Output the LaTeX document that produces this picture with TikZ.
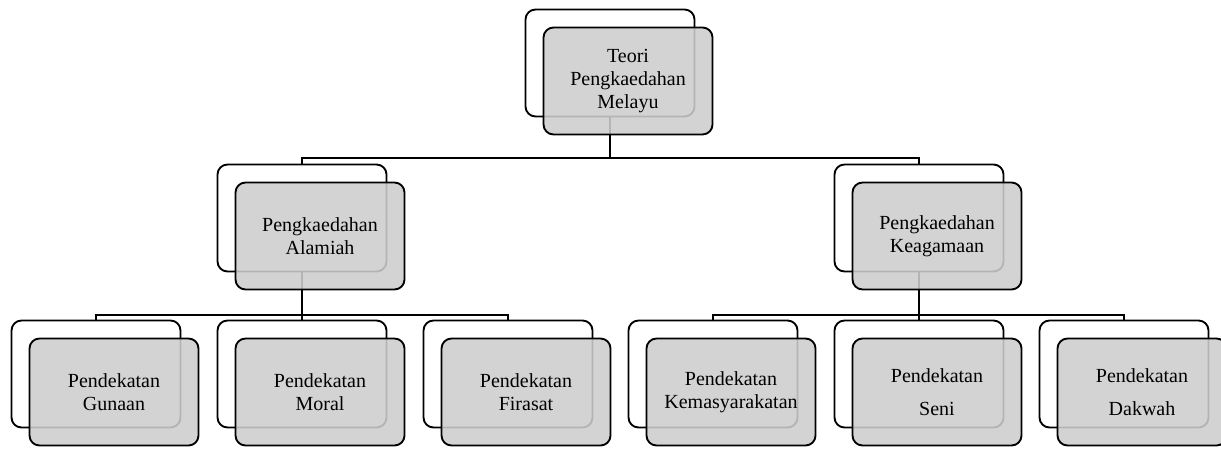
\documentclass[tikz,border=0pt]{standalone}
\usepackage{fontspec}
\setmainfont{Liberation Serif}
\definecolor{boxgray}{RGB}{205,205,205}
\begin{document}
\begin{tikzpicture}[x=0.75pt, y=-0.75pt,
  back/.style={rectangle, rounded corners=7.5pt, draw, line width=1.4pt, fill=white, minimum width=126.75pt, minimum height=80.25pt},
  front/.style={back, fill=boxgray, fill opacity=0.88, text opacity=1, align=center, font=\fontsize{15}{17.5}\selectfont},
  link/.style={line width=1pt}]
\useasboundingbox (0,0) rectangle (1221,449);

% back boxes
\node[back] (0) at (610,63) {};
\node[back] (1) at (302,218) {};
\node[back] (2) at (919,218) {};
\node[back] (3) at (96,374) {};
\node[back] (4) at (302,374) {};
\node[back] (5) at (508,374) {};
\node[back] (6) at (713,374) {};
\node[back] (7) at (919,374) {};
\node[back] (8) at (1124,374) {};

% connectors
\coordinate (h0) at (610,158);
\coordinate (h1) at (302,315);
\coordinate (h2) at (919,315);
\draw[link] (0) -- (h0) -| (1)
            (h0) -| (2);
\draw[link] (1) -- (h1) -- (4)
            (h1) -| (3)
            (h1) -| (5);
\draw[link] (2) -- (h2) -- (7)
            (h2) -| (6)
            (h2) -| (8);

% front boxes
\node[front] (t0) at (628,81) {Teori\\Pengkaedahan\\Melayu};
\node[front] (t1) at (320,236) {Pengkaedahan\\Alamiah};
\node[front] (t2) at (937,236) {Pengkaedahan\\Keagamaan};
\node[front] (t3) at (114,392) {Pendekatan\\Gunaan};
\node[front] (t4) at (320,392) {Pendekatan\\Moral};
\node[front] (t5) at (526,392) {Pendekatan\\Firasat};
\node[front] (t6) at (731,392) {Pendekatan\\Kemasyarakatan};
\node[front] (t7) at (937,392) {Pendekatan\\[7pt]Seni};
\node[front] (t8) at (1142,392) {Pendekatan\\[7pt]Dakwah};
\end{tikzpicture}
\end{document}
